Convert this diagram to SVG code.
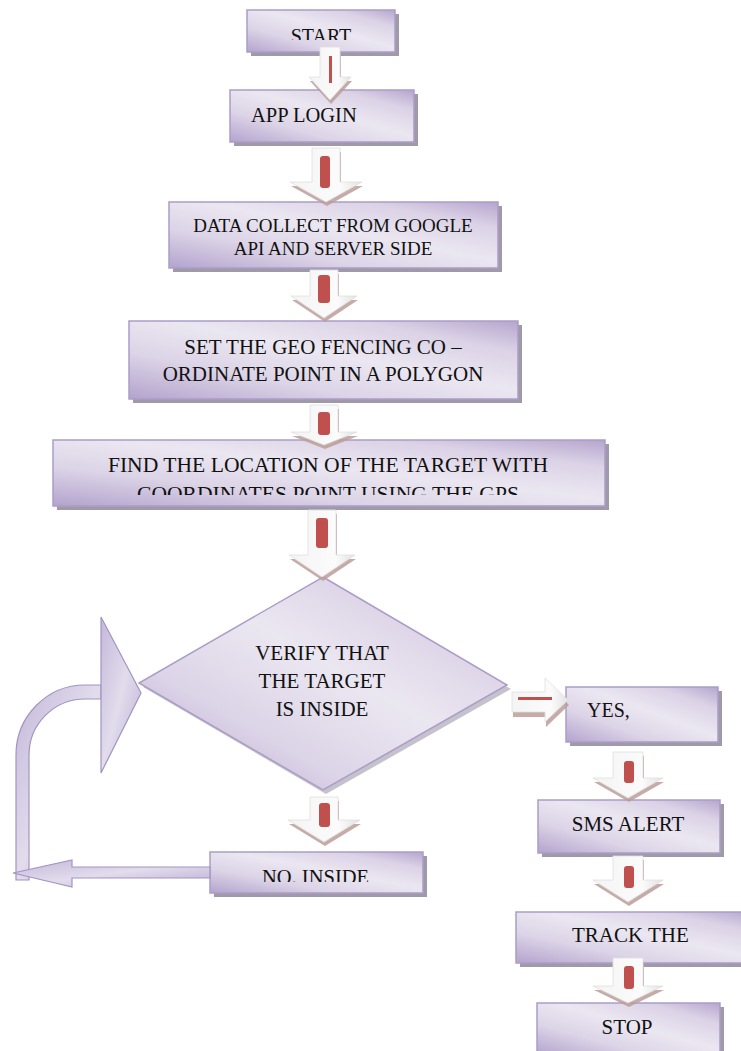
<svg xmlns="http://www.w3.org/2000/svg" width="741" height="1051" viewBox="0 0 741 1051">
<defs>
<linearGradient id="boxg" x1="0" y1="1" x2="1" y2="0">
<stop offset="0" stop-color="#b3a3cd"/>
<stop offset="0.3" stop-color="#dcd4e7"/>
<stop offset="0.55" stop-color="#ebe7f1"/>
<stop offset="0.8" stop-color="#dbd2e6"/>
<stop offset="1" stop-color="#b5a5ce"/>
</linearGradient>
<linearGradient id="loopg" x1="0" y1="0" x2="1" y2="1">
<stop offset="0" stop-color="#c4b8da"/>
<stop offset="0.5" stop-color="#e2dcec"/>
<stop offset="1" stop-color="#bcaed4"/>
</linearGradient>
<linearGradient id="arrg" x1="0" y1="0" x2="1" y2="0">
<stop offset="0" stop-color="#f4f4f4"/>
<stop offset="0.7" stop-color="#fbfbfb"/>
<stop offset="1" stop-color="#e2e2e2"/>
</linearGradient>
<clipPath id="clipStart"><rect x="240" y="0" width="170" height="40"/></clipPath>
<clipPath id="clipFind"><rect x="50" y="440" width="560" height="55"/></clipPath>
<clipPath id="clipNo"><rect x="205" y="850" width="225" height="32"/></clipPath>
</defs>
<style>
.shadow{fill:#a09aa8;}
.box{fill:url(#boxg);stroke:#ab9dc8;stroke-width:1.5;}
.txt{fill:#111;}
.ashadow{fill:#bb9d99;opacity:0.85;}
.arrow{fill:url(#arrg);stroke:#e0e0e0;stroke-width:0.8;}
.red{fill:#c0504d;}
.loop{fill:url(#loopg);stroke:#a294c2;stroke-width:1.2;}
</style>
<rect width="741" height="1051" fill="#ffffff"/>

<g font-family="Liberation Serif, Times New Roman, DejaVu Serif, serif">
<g id="node-start">
<rect class="shadow" x="251" y="14" width="148" height="42"/>
<rect class="box" x="247" y="10" width="148" height="42"/>
<text class="txt" x="321" y="43" font-size="20" text-anchor="middle" clip-path="url(#clipStart)">START</text>
</g>
<g id="node-applogin">
<rect class="shadow" x="234" y="94" width="184" height="52"/>
<rect class="box" x="230" y="90" width="184" height="52"/>
<text class="txt" x="251" y="122" font-size="20.5">APP LOGIN</text>
</g>
<g id="node-datacollect">
<rect class="shadow" x="173" y="206" width="329" height="66"/>
<rect class="box" x="169" y="202" width="329" height="66"/>
<text class="txt" x="333" y="232" font-size="19" text-anchor="middle">DATA COLLECT FROM GOOGLE</text>
<text class="txt" x="333" y="255" font-size="19" text-anchor="middle">API AND SERVER SIDE</text>
</g>
<g id="node-setgeo">
<rect class="shadow" x="133" y="325" width="389" height="78"/>
<rect class="box" x="129" y="321" width="389" height="78"/>
<text class="txt" x="323" y="354" font-size="21" text-anchor="middle">SET THE GEO FENCING CO –</text>
<text class="txt" x="323" y="381" font-size="21" text-anchor="middle">ORDINATE POINT IN A POLYGON</text>
</g>
<g id="node-find">
<rect class="shadow" x="57" y="444" width="552" height="66"/>
<rect class="box" x="53" y="440" width="552" height="66"/>
<text class="txt" x="328" y="472" font-size="21.6" text-anchor="middle">FIND THE LOCATION OF THE TARGET WITH</text>
<text class="txt" x="328" y="501" font-size="21.6" text-anchor="middle" clip-path="url(#clipFind)">COORDINATES POINT USING THE GPS</text>
</g>
<g id="node-verify">
<polygon class="shadow" points="326,581 511,689 326,794 143,687" opacity="0.6"/>
<polygon class="box" points="323,577 507,685 323,790 139,683"/>
<text class="txt" x="322" y="660" font-size="21" text-anchor="middle">VERIFY THAT</text>
<text class="txt" x="322" y="688" font-size="21" text-anchor="middle">THE TARGET</text>
<text class="txt" x="322" y="716" font-size="21" text-anchor="middle">IS INSIDE</text>
</g>
<g id="node-yes">
<rect class="shadow" x="570" y="691" width="152" height="55"/>
<rect class="box" x="566" y="687" width="152" height="55"/>
<text class="txt" x="587" y="717" font-size="20">YES,</text>
</g>
<g id="node-noinside">
<rect class="shadow" x="214" y="856" width="213" height="41"/>
<rect class="box" x="210" y="852" width="213" height="41"/>
<text class="txt" x="262" y="884" font-size="20.5" clip-path="url(#clipNo)">NO. INSIDE</text>
</g>
<g id="node-sms">
<rect class="shadow" x="542" y="804" width="182" height="53"/>
<rect class="box" x="538" y="800" width="182" height="53"/>
<text class="txt" x="628" y="831" font-size="21" text-anchor="middle">SMS ALERT</text>
</g>
<g id="node-track">
<rect class="shadow" x="520" y="916" width="240" height="51"/>
<rect class="box" x="516" y="912" width="240" height="51"/>
<text class="txt" x="572" y="942" font-size="21">TRACK THE</text>
</g>
<g id="node-stop">
<rect class="shadow" x="541" y="1007" width="183" height="52"/>
<rect class="box" x="537" y="1003" width="183" height="52"/>
<text class="txt" x="627" y="1034" font-size="21" text-anchor="middle">STOP</text>
</g>
</g>

<g id="connectors">
<polygon class="ashadow" points="321,51 341,51 341,81 352,81 331,104 310,81 321,81"/>
<polygon class="arrow" points="320,47 340,47 340,77 351,77 330,100 309,77 320,77"/>
<rect class="red" x="329" y="56" width="3" height="27"/>
<polygon class="ashadow" points="313,152 341,152 341,186 363,186 327,206 291,186 313,186"/>
<polygon class="arrow" points="312,148 340,148 340,182 362,182 326,202 290,182 312,182"/>
<rect class="red" x="320" y="156" width="10" height="32" rx="3"/>
<polygon class="ashadow" points="311,274 339,274 339,300 358,300 325,322 292,300 311,300"/>
<polygon class="arrow" points="310,270 338,270 338,296 357,296 324,318 291,296 310,296"/>
<rect class="red" x="318" y="275" width="12" height="28" rx="3"/>
<polygon class="ashadow" points="311,409 339,409 339,436 358,436 325,449 292,436 311,436"/>
<polygon class="arrow" points="310,405 338,405 338,432 357,432 324,445 291,432 310,432"/>
<rect class="red" x="318" y="412" width="12" height="23" rx="3"/>
<polygon class="ashadow" points="309,514 337,514 337,559 356,559 323,581 290,559 309,559"/>
<polygon class="arrow" points="308,510 336,510 336,555 355,555 322,577 289,555 308,555"/>
<rect class="red" x="316" y="518" width="12" height="30" rx="3"/>
<polygon class="ashadow" points="311,801 339,801 339,824 361,824 325,846 289,824 311,824"/>
<polygon class="arrow" points="310,797 338,797 338,820 360,820 324,842 288,820 310,820"/>
<rect class="red" x="319" y="803" width="11" height="24" rx="3"/>
<polygon class="ashadow" points="614,756 644,756 644,782 664,782 629,802 594,782 614,782"/>
<polygon class="arrow" points="613,752 643,752 643,778 663,778 628,798 593,778 613,778"/>
<rect class="red" x="624" y="761" width="10" height="22" rx="3"/>
<polygon class="ashadow" points="614,860 644,860 644,884 664,884 629,906 594,884 614,884"/>
<polygon class="arrow" points="613,856 643,856 643,880 663,880 628,902 593,880 613,880"/>
<rect class="red" x="624" y="866" width="10" height="22" rx="3"/>
<polygon class="ashadow" points="614,962 644,962 644,990 664,990 629,1007 594,990 614,990"/>
<polygon class="arrow" points="613,958 643,958 643,986 663,986 628,1003 593,986 613,986"/>
<rect class="red" x="624" y="966" width="10" height="23" rx="3"/>
<polygon class="ashadow" points="513,697 546,697 546,683 569,705 546,727 546,717 513,717"/>
<polygon class="arrow" points="512,692 545,692 545,678 568,700 545,722 545,712 512,712"/>
<rect class="red" x="518" y="697" width="34" height="3"/>
<path class="loop" d="M 101 685 L 85 685 A 69 70 0 0 0 16 755 L 16 880 L 29 880 L 29 755 A 56 56 0 0 1 85 699 L 101 699 Z"/>
<polygon class="loop" points="101,617 141,693 101,773"/>
<polygon class="loop" points="210,867 72,867 72,860 13,873 72,887 72,878 210,878"/>
</g>
</svg>
